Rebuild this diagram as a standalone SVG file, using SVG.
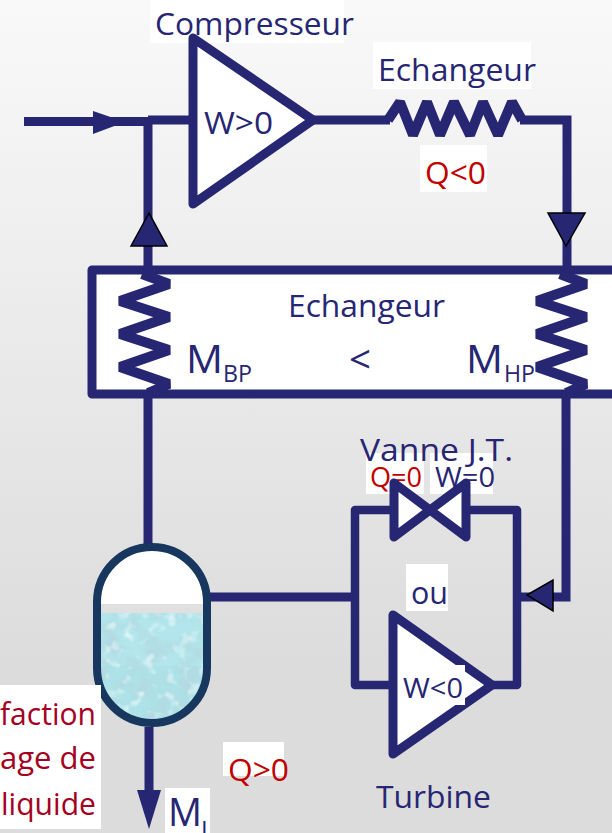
<svg xmlns="http://www.w3.org/2000/svg" width="612" height="833" viewBox="0 0 612 833">
<style>
.ln{fill:none;stroke:#262673;stroke-width:8.500;stroke-linejoin:round}
.coil{fill:none;stroke:#262673;stroke-width:10;stroke-linejoin:bevel}
.sq{fill:none;stroke:#262673;stroke-width:9;stroke-linejoin:miter}
.sh{fill:#fff;stroke:#262673;stroke-width:9;stroke-linejoin:round}
.ah{fill:#262673;stroke:#000;stroke-width:1.5}
.af{fill:#262673}
.wb{fill:#fff}
text{font-family:"Open Sans","Liberation Sans",sans-serif;font-size:31px;fill:#262673}
.red{fill:#c00000}
.dred{fill:#a50021;text-anchor:end}
.sub{font-size:24px}
.m{font-size:38px}
.sm{font-size:28px}
</style>
<defs>
<linearGradient id="bg" x1="0" y1="0" x2="0" y2="1">
<stop offset="0" stop-color="#f9f9f9"/>
<stop offset="0.8" stop-color="#dcdcdc"/>
<stop offset="1" stop-color="#dcdcdc"/>
</linearGradient>
<filter id="water" x="0" y="0" width="1" height="1">
<feTurbulence type="fractalNoise" baseFrequency="0.05" numOctaves="3" seed="7" result="n"/>
<feColorMatrix in="n" type="matrix" values="0 0 0 0 0.45  0 0 0 0 0.70  0 0 0 0 0.76  3.2 0 0 0 -1.3" result="d"/>
<feTurbulence type="fractalNoise" baseFrequency="0.09" numOctaves="2" seed="21" result="n2"/>
<feColorMatrix in="n2" type="matrix" values="0 0 0 0 0.82  0 0 0 0 0.96  0 0 0 0 0.97  2.5 0 0 0 -1.35" result="l"/>
<feMerge><feMergeNode in="SourceGraphic"/><feMergeNode in="d"/><feMergeNode in="l"/></feMerge>
</filter>
<clipPath id="vessel"><rect x="97" y="547" width="110" height="176" rx="55" ry="55"/></clipPath>
</defs>
<rect width="612" height="833" fill="url(#bg)"/>

<g id="connectors">
<path class="sq" d="M24 121.500H148V270M148 394V547M148 120H193"/>
<path class="sq" d="M313 120H390M520 120H567V270M566 394V597H520"/>
<path class="sq" d="M210 597H355"/>
<path class="sq" d="M149 727V795"/>
<polygon class="af" points="93,111 93,134 125,122"/>
<polygon class="ah" points="149,213 131,246 167,246"/>
<polygon class="ah" points="548,213 585,213 566,246"/>
<polygon class="ah" points="527,595 553,580 553,611"/>
<polygon class="af" points="137,790 161,790 149,829"/>
</g>

<g id="compresseur">
<rect class="wb" x="150" y="0" width="194" height="43"/>
<text x="155" y="35" textLength="199" lengthAdjust="spacingAndGlyphs">Compresseur</text>
<polygon class="sh" points="193,38 193,204 313,120"/>
<text x="204" y="134" textLength="69" lengthAdjust="spacingAndGlyphs">W&gt;0</text>
</g>

<g id="echangeur-haut">
<rect class="wb" x="373" y="42" width="158" height="47"/>
<text x="378" y="81" textLength="158" lengthAdjust="spacingAndGlyphs">Echangeur</text>
<path class="coil" d="M388 120L400 102L413 135L427 102L440 135L454 102L470 135L483 102L498 135L512 102L522 120"/>
<rect class="wb" x="420" y="145" width="67" height="47"/>
<text class="red" x="425" y="184" textLength="61" lengthAdjust="spacingAndGlyphs">Q&lt;0</text>
</g>

<g id="echangeur-principal">
<rect class="sh" x="92" y="270" width="540" height="124"/>
<path class="coil" d="M142 274L169 284L120 301L169 317L120 334L169 350L120 367L169 384L148 393"/>
<path class="coil" d="M560 274L586 284L537 301L586 317L537 334L586 350L537 367L586 384L566 393"/>
<text x="288" y="317" textLength="157" lengthAdjust="spacingAndGlyphs">Echangeur</text>
<text class="m" x="186" y="373" textLength="37" lengthAdjust="spacingAndGlyphs">M</text>
<text class="sub" x="223" y="382" textLength="29" lengthAdjust="spacingAndGlyphs">BP</text>
<text class="m" x="349" y="373" textLength="22" lengthAdjust="spacingAndGlyphs">&lt;</text>
<text class="m" x="466" y="373" textLength="37" lengthAdjust="spacingAndGlyphs">M</text>
<text class="sub" x="504" y="382" textLength="31" lengthAdjust="spacingAndGlyphs">HP</text>
</g>

<g id="boucle-detente">
<path class="ln" d="M394 510H355V685H393M466 510H517V685H492"/>
</g>

<g id="vanne-jt">
<rect class="wb" x="366" y="453" width="58" height="41"/>
<rect class="wb" x="430" y="453" width="63" height="41"/>
<text x="360" y="461" textLength="153" lengthAdjust="spacingAndGlyphs">Vanne J.T.</text>
<text class="red sm" x="370" y="487" textLength="52" lengthAdjust="spacingAndGlyphs">Q=0</text>
<text class="sm" x="435" y="487" textLength="60" lengthAdjust="spacingAndGlyphs">W=0</text>
<polygon class="sh" points="394,483 394,537 466,483 466,537"/>
</g>

<g id="ou">
<rect class="wb" x="406" y="564" width="42" height="47"/>
<text x="411" y="604" textLength="37" lengthAdjust="spacingAndGlyphs">ou</text>
</g>

<g id="turbine">
<polygon class="sh" points="393,615 393,754 492,685"/>
<rect class="wb" x="455" y="665" width="10" height="40"/>
<text class="sm" x="403" y="698" textLength="60" lengthAdjust="spacingAndGlyphs">W&lt;0</text>
<text x="376" y="808" textLength="115" lengthAdjust="spacingAndGlyphs">Turbine</text>
</g>

<g id="reservoir">
<rect x="97" y="547" width="110" height="176" rx="55" ry="55" fill="#fff"/>
<g clip-path="url(#vessel)">
<rect x="97" y="604" width="110" height="9" fill="#e0e0e0"/>
<rect x="97" y="613" width="110" height="53" fill="#b2e6ec" filter="url(#water)"/>
<rect x="97" y="666" width="110" height="60" fill="#ace2e8" filter="url(#water)"/>
</g>
<rect x="97" y="547" width="110" height="176" rx="55" ry="55" fill="none" stroke="#17375e" stroke-width="8"/>
</g>

<g id="label-fraction">
<rect class="wb" x="0" y="685" width="101" height="144"/>
<text class="dred" x="96" y="725" textLength="96" lengthAdjust="spacingAndGlyphs">faction</text>
<text class="dred" x="96" y="769" textLength="96" lengthAdjust="spacingAndGlyphs">age de</text>
<text class="dred" x="96" y="815" textLength="95" lengthAdjust="spacingAndGlyphs">liquide</text>
</g>

<g id="label-q">
<rect class="wb" x="223" y="742" width="61" height="34"/>
<text class="red" x="228" y="781" textLength="61" lengthAdjust="spacingAndGlyphs">Q&gt;0</text>
</g>

<g id="label-ml">
<rect class="wb" x="165" y="788" width="45" height="45"/>
<text class="m" x="168" y="826" textLength="34" lengthAdjust="spacingAndGlyphs">M</text>
<text class="sub" x="201" y="838">L</text>
</g>
</svg>
